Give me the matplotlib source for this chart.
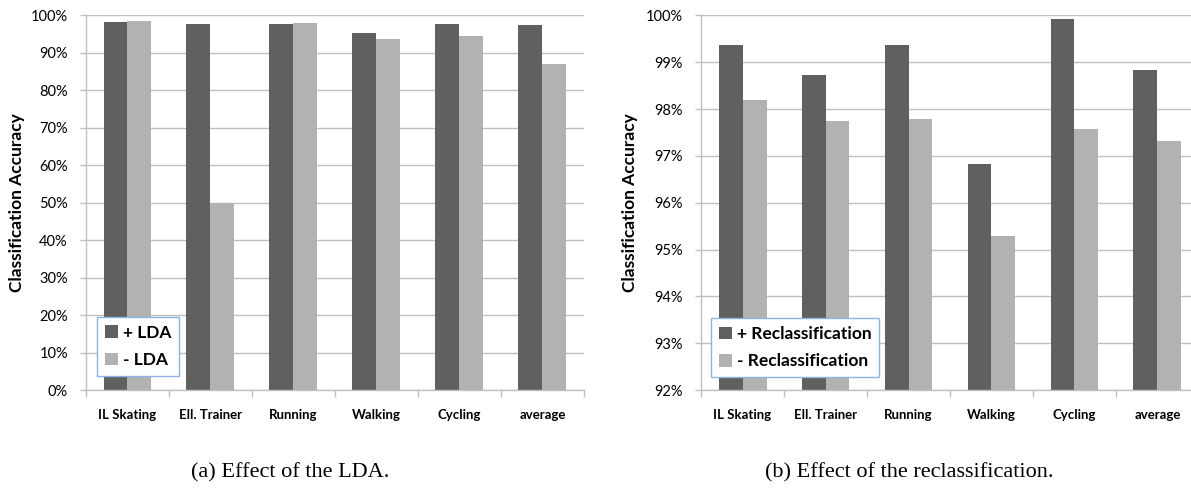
import numpy as np
import matplotlib
matplotlib.use("Agg")
import matplotlib.pyplot as plt
from matplotlib.ticker import FuncFormatter, MultipleLocator

categories = ["IL Skating", "Ell. Trainer", "Running", "Walking", "Cycling", "average"]

# (a) effect of the LDA, accuracy in %
lda_with = [98.2, 97.7, 97.7, 95.3, 97.7, 97.4]
lda_without = [98.5, 50.0, 97.9, 93.7, 94.5, 87.0]

# (b) effect of the reclassification, accuracy in %
recl_with = [99.38, 98.73, 99.36, 96.83, 99.93, 98.84]
recl_without = [98.20, 97.75, 97.79, 95.29, 97.58, 97.32]

dark = "#606060"
light = "#b2b2b2"
grid_col = "#c0c0c0"
sans = "Lato"

fig = plt.figure(figsize=(11.91, 4.95), dpi=100)
ax1 = fig.add_axes([0.0722, 0.2121, 0.4181, 0.7566])
ax2 = fig.add_axes([0.5886, 0.2121, 0.4181, 0.7566])

x = np.arange(len(categories)) + 0.5
w = 0.289


def style(ax, ymin, ymax, step, series, labels, legend_anchor):
    ax.bar(x - w / 2, series[0], w, color=dark, label=labels[0], zorder=2)
    ax.bar(x + w / 2, series[1], w, color=light, label=labels[1], zorder=2)
    ax.set_xlim(0, len(categories))
    ax.set_ylim(ymin, ymax)
    ax.yaxis.set_major_locator(MultipleLocator(step))
    ax.yaxis.set_major_formatter(FuncFormatter(lambda v, p: f"{v:.0f}%"))
    ax.grid(axis="y", color=grid_col, linewidth=1, zorder=0)
    ax.set_axisbelow(True)
    for s in ["top", "right"]:
        ax.spines[s].set_visible(False)
    for s in ["left", "bottom"]:
        ax.spines[s].set_color(grid_col)
        ax.spines[s].set_linewidth(1)
    # category ticks at the boundaries, labels in the middle
    ax.set_xticks(np.arange(len(categories) + 1))
    ax.set_xticklabels([])
    ax.set_xticks(x, minor=True)
    ax.set_xticklabels(categories, minor=True, fontfamily=sans,
                       fontweight="bold", fontsize=9.5)
    ax.tick_params(axis="x", which="major", length=5, color=grid_col, width=1)
    ax.tick_params(axis="x", which="minor", length=0, pad=14)
    ax.tick_params(axis="y", length=4, color=grid_col, width=1, pad=9,
                   labelsize=10.5)
    for t in ax.get_yticklabels():
        t.set_fontfamily(sans)
    ax.set_ylabel("Classification Accuracy", fontfamily=sans,
                  fontweight="bold", fontsize=12.5)
    leg = ax.legend(loc="upper left", bbox_to_anchor=legend_anchor,
                    borderaxespad=0, frameon=True, fancybox=False,
                    prop={"family": sans, "weight": "bold", "size": 12.5},
                    handlelength=0.75, handleheight=0.75, handletextpad=0.3,
                    labelspacing=0.65, borderpad=0.45)
    leg.get_frame().set_edgecolor("#8db3e2")
    leg.get_frame().set_linewidth(1)
    leg.get_frame().set_facecolor("white")
    leg.get_frame().set_alpha(1)


style(ax1, 0, 100, 10, (lda_with, lda_without), ("+ LDA", "- LDA"), (0.022, 0.195))
style(ax2, 92, 100, 1, (recl_with, recl_without),
      ("+ Reclassification", "- Reclassification"), (0.020, 0.192))

ax1.yaxis.set_label_coords(-0.1225, 0.5)
ax2.yaxis.set_label_coords(-0.1265, 0.5)

fig.text(290 / 1191, 0.045, "(a) Effect of the LDA.", ha="center", va="center",
         fontfamily="Liberation Serif", fontsize=16)
fig.text(909 / 1191, 0.045, "(b) Effect of the reclassification.", ha="center",
         va="center", fontfamily="Liberation Serif", fontsize=16)

fig.savefig("out.png", dpi=100)
